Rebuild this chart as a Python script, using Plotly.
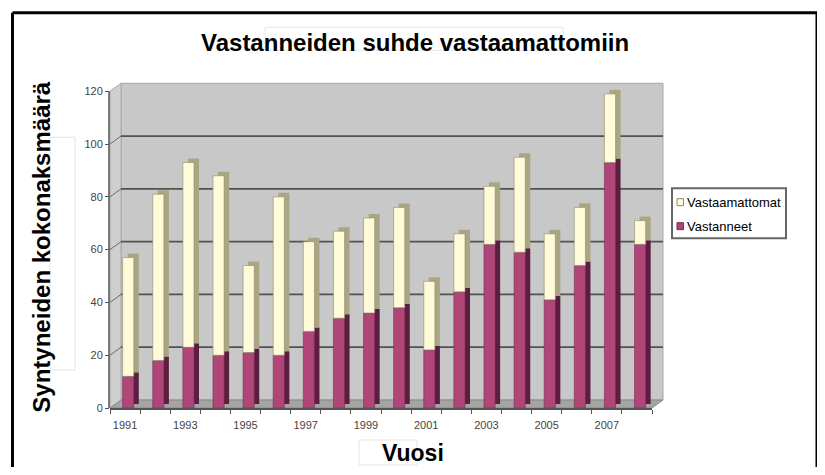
import plotly.graph_objects as go

# ---------------- data ----------------
years = [1991, 1992, 1993, 1994, 1995, 1996, 1997, 1998, 1999,
         2000, 2001, 2002, 2003, 2004, 2005, 2006, 2007, 2008]
vastanneet = [12, 18, 23, 20, 21, 20, 29, 34, 36, 38, 22, 44, 62, 59, 41, 54, 93, 62]
vastaamattomat = [45, 63, 70, 68, 33, 60, 34, 33, 36, 38, 26, 22, 22, 36, 25, 22, 26, 9]
y_ticks = [0, 20, 40, 60, 80, 100, 120]
x_tick_years = [1991, 1993, 1995, 1997, 1999, 2001, 2003, 2005, 2007]

title_text = "Vastanneiden suhde vastaamattomiin"
ytitle_text = "Syntyneiden kokonaksmäärä"
xtitle_text = "Vuosi"
names = ["Vastanneet", "Vastaamattomat"]

# ---------------- style / geometry ----------------
PAGE_OFF = 8             # default page body margin
W, H = 825 - PAGE_OFF, 475 - 2 * PAGE_OFF
L, R = 110, 652          # front plane of plot area (screen px)
B = 408                  # y=0 at this screen pixel row
UNIT = 317 / 120         # px per y unit
YMAX = 122
T = B - YMAX * UNIT      # top of plot area (screen px)

MAROON = "#b04678"
MAROON_SIDE = "#5c1e40"
CREAM = "#fffad8"
CREAM_SIDE = "#aaa684"
WALL = "#c8c8c8"
FLOOR = "#a4a4a4"
GRID = "#525252"
FONT = "Liberation Sans, Arial, sans-serif"

DEPTH_X, DEPTH_Y = 11, 8     # back wall offset (px)
BAR_W = 0.37
BAR_OFF = -0.08
BAR_DX = 5 / 30.1            # bar side depth in category units
BAR_DY = 4 / UNIT            # bar top depth in y units


def px(xp):
    return (xp - L) / (R - L)


def py(yp):
    return (B - yp) / (B - T)


base_top = [a for a in vastanneet]

fig = go.Figure()

# depth faces (drawn first, shifted up/right)
fig.add_trace(go.Bar(x=years, y=vastanneet, base=[BAR_DY] * len(years),
                     width=BAR_W, offset=BAR_OFF + BAR_DX,
                     marker=dict(color=MAROON_SIDE, line=dict(width=0)),
                     showlegend=False, hoverinfo="skip"))
fig.add_trace(go.Bar(x=years, y=vastaamattomat, base=[v + BAR_DY for v in base_top],
                     width=BAR_W, offset=BAR_OFF + BAR_DX,
                     marker=dict(color=CREAM_SIDE, line=dict(width=0)),
                     showlegend=False, hoverinfo="skip"))
# front faces
fig.add_trace(go.Bar(x=years, y=vastanneet, base=[0] * len(years), name=names[0],
                     width=BAR_W, offset=BAR_OFF,
                     marker=dict(color=MAROON, line=dict(width=0.6, color="#7a2a55")),
                     showlegend=False))
fig.add_trace(go.Bar(x=years, y=vastaamattomat, base=base_top, name=names[1],
                     width=BAR_W, offset=BAR_OFF,
                     marker=dict(color=CREAM, line=dict(width=0.6, color="#8e8a6c")),
                     showlegend=False))

shapes = []
# outer frame (drawn as separate edges)
FR_L, FR_T, FR_R = 12.5, 12.5, 817
for (xa, ya, xb, yb) in [(FR_L, FR_T, FR_R, FR_T), (FR_L, FR_T, FR_L, 470),
                         (FR_R, FR_T, FR_R, 470)]:
    shapes.append(dict(type="line", xref="paper", yref="paper",
                       x0=px(xa), x1=px(xb), y0=py(ya), y1=py(yb),
                       line=dict(color="black", width=3), layer="above"))
# faint text boxes
for (a, b, c, d) in [(265, 27, 563, 50), (50, 137, 75, 370), (359, 440, 417, 465)]:
    shapes.append(dict(type="rect", xref="paper", yref="paper",
                       x0=px(a), x1=px(c), y0=py(d), y1=py(b),
                       line=dict(color="#e4e4e4", width=1), layer="below"))
# back wall
top_wall = B - 120 * UNIT - DEPTH_Y
shapes.append(dict(type="rect", xref="paper", yref="paper",
                   x0=px(L + DEPTH_X), x1=px(R + DEPTH_X), y0=py(B - DEPTH_Y), y1=py(top_wall),
                   fillcolor=WALL, line=dict(color="#a8a8a8", width=1), layer="below"))
# left wall
shapes.append(dict(type="path", xref="paper", yref="paper",
                   path=f"M{px(L)},{py(B)} L{px(L + DEPTH_X)},{py(B - DEPTH_Y)} "
                        f"L{px(L + DEPTH_X)},{py(top_wall)} L{px(L)},{py(B - 120 * UNIT)} Z",
                   fillcolor="#cfcfcf", line=dict(color="#a8a8a8", width=1), layer="below"))
# floor
shapes.append(dict(type="path", xref="paper", yref="paper",
                   path=f"M{px(L)},{py(B)} L{px(R)},{py(B)} L{px(R + DEPTH_X)},{py(B - DEPTH_Y)} "
                        f"L{px(L + DEPTH_X)},{py(B - DEPTH_Y)} Z",
                   fillcolor=FLOOR, line=dict(color="#888888", width=1), layer="below"))
# gridlines on back wall + connectors on left wall
for v in y_ticks[1:-1]:
    yf = B - v * UNIT
    shapes.append(dict(type="line", xref="paper", yref="paper",
                       x0=px(L + DEPTH_X), x1=px(R + DEPTH_X), y0=py(yf - DEPTH_Y), y1=py(yf - DEPTH_Y),
                       line=dict(color=GRID, width=1.8), layer="below"))
    shapes.append(dict(type="line", xref="paper", yref="paper",
                       x0=px(L), x1=px(L + DEPTH_X), y0=py(yf), y1=py(yf - DEPTH_Y),
                       line=dict(color="#6a6a6a", width=1), layer="below"))
# front y axis line (0..120)
shapes.append(dict(type="line", xref="paper", yref="y",
                   x0=px(L - 1), x1=px(L - 1), y0=0, y1=120,
                   line=dict(color="#555555", width=1.5), layer="above"))

# manual legend
shapes.append(dict(type="rect", xref="paper", yref="paper",
                   x0=px(672), x1=px(786), y0=py(238), y1=py(188),
                   fillcolor="white", line=dict(color="#666666", width=2), layer="above"))
leg_items = [(names[1], CREAM, "#8e8a6c", 202), (names[0], MAROON, "#7a2a55", 226)]
annotations = []
for name, col, edge, yc in leg_items:
    shapes.append(dict(type="rect", xref="paper", yref="paper",
                       x0=px(677), x1=px(683.5), y0=py(yc + 3.5), y1=py(yc - 3.5),
                       fillcolor=col, line=dict(color=edge, width=1), layer="above"))
    annotations.append(dict(text=name, xref="paper", yref="paper", x=px(685), y=py(yc),
                            xanchor="left", yanchor="middle", showarrow=False,
                            font=dict(family=FONT, size=13, color="black")))

# titles
annotations.append(dict(text=f"<b>{title_text}</b>", xref="paper", yref="paper",
                        x=px(415), y=py(42.5), xanchor="center", yanchor="middle",
                        showarrow=False, font=dict(family=FONT, size=24, color="black")))
annotations.append(dict(text=f"<b>{ytitle_text}</b>", xref="paper", yref="paper",
                        x=px(42), y=py(247.5), xanchor="center", yanchor="middle", textangle=-90,
                        showarrow=False, font=dict(family=FONT, size=24, color="black")))
annotations.append(dict(text=f"<b>{xtitle_text}</b>", xref="paper", yref="paper",
                        x=px(413), y=py(453), xanchor="center", yanchor="middle",
                        showarrow=False, font=dict(family=FONT, size=23, color="black")))

boundaries = [y - 0.5 for y in years] + [years[-1] + 0.5]

fig.update_layout(
    width=W, height=H,
    margin=dict(l=L - PAGE_OFF, r=W - (R - PAGE_OFF), t=T - PAGE_OFF, b=H - (B - PAGE_OFF), pad=0),
    paper_bgcolor="white", plot_bgcolor="rgba(0,0,0,0)",
    barmode="overlay", showlegend=False,
    shapes=shapes, annotations=annotations,
    font=dict(family=FONT),
    xaxis=dict(range=[years[0] - 0.5, years[-1] + 0.5], tickvals=x_tick_years,
               ticktext=[str(y) for y in x_tick_years],
               ticks="outside", ticklen=6, tickcolor="rgba(0,0,0,0)",
               tickfont=dict(family=FONT, size=11, color="#444444"),
               minor=dict(tickvals=boundaries, ticks="outside", ticklen=4, tickcolor="#555555",
                          tickwidth=1.2, showgrid=False),
               showline=True, linecolor="#555555", linewidth=1.5,
               showgrid=False, zeroline=False, fixedrange=True),
    yaxis=dict(range=[0, YMAX], tickvals=y_ticks, ticks="outside", ticklen=4,
               tickcolor="#555555", tickwidth=1.2,
               tickfont=dict(family=FONT, size=11, color="#444444"),
               showline=False, showgrid=False, zeroline=False, fixedrange=True),
)

fig.write_html("out.html")
